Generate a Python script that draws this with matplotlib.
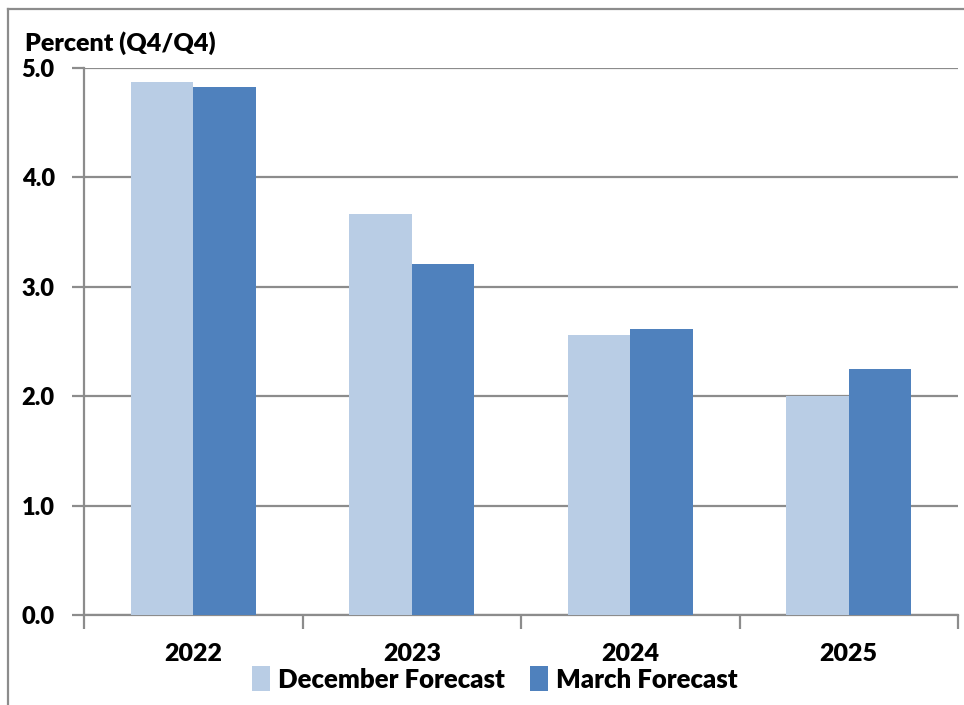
import matplotlib
matplotlib.use("Agg")
import matplotlib.pyplot as plt
from matplotlib.lines import Line2D
import numpy as np

plt.rcParams['font.family'] = ['Lato', 'DejaVu Sans']
plt.rcParams['font.weight'] = 'heavy'

years = ['2022', '2023', '2024', '2025']
december = [4.87, 3.67, 2.56, 2.00]
march = [4.83, 3.21, 2.61, 2.25]
yticks = [0.0, 1.0, 2.0, 3.0, 4.0, 5.0]

light = '#B9CDE5'
dark = '#4F81BD'
grey = '#8C8C8C'
W_TXT = 'heavy'

W, H = 964, 705
fig = plt.figure(figsize=(W / 100, H / 100), dpi=100)
ax = fig.add_axes([84 / W, (H - 615) / H, (958 - 84) / W, (615 - 68) / H])

x = np.arange(len(years))
bw = 0.286
ax.bar(x - bw / 2, december, bw, color=light, label='December Forecast', zorder=3)
ax.bar(x + bw / 2, march, bw, color=dark, label='March Forecast', zorder=3)

ax.set_xlim(-0.5, len(years) - 0.5)
ax.set_ylim(0, 5)
ax.set_yticks(yticks)
ax.set_yticklabels([f'{v:.1f}' for v in yticks], fontsize=17, fontweight=W_TXT)
ax.yaxis.grid(True, color=grey, linewidth=1.6, zorder=0)
ax.set_axisbelow(True)

# category labels centered, boundary ticks between categories
ax.set_xticks(x)
ax.set_xticklabels(years, fontsize=18, fontweight=W_TXT)
ax.tick_params(axis='x', which='major', length=0, pad=20)
ax.set_xticks(np.arange(-0.5, len(years)), minor=True)
ax.tick_params(axis='x', which='minor', length=10, width=1.6, color=grey, direction='out')
ax.tick_params(axis='y', length=9, width=1.6, color=grey, direction='out', pad=12)

for s in ['top', 'right']:
    ax.spines[s].set_visible(False)
for s in ['left', 'bottom']:
    ax.spines[s].set_color(grey)
    ax.spines[s].set_linewidth(1.6)

fig.text(25 / W, 1 - 43 / H, 'Percent (Q4/Q4)', fontsize=18, fontweight=W_TXT,
         va='center', ha='left')

leg = fig.legend(loc='center', bbox_to_anchor=(495 / W, 1 - 679 / H), ncol=2,
                 frameon=False, fontsize=18.5, handlelength=0.7, handleheight=1.1,
                 handletextpad=0.3, columnspacing=1.0, borderpad=0)
for t in leg.get_texts():
    t.set_fontweight(W_TXT)

# page border
fig.add_artist(Line2D([8 / W, 8 / W], [0, 1 - 9 / H], color=grey, linewidth=1.6,
                      transform=fig.transFigure))
fig.add_artist(Line2D([8 / W, 1], [1 - 9 / H, 1 - 9 / H], color=grey, linewidth=1.6,
                      transform=fig.transFigure))

fig.savefig('out.png', dpi=100)
